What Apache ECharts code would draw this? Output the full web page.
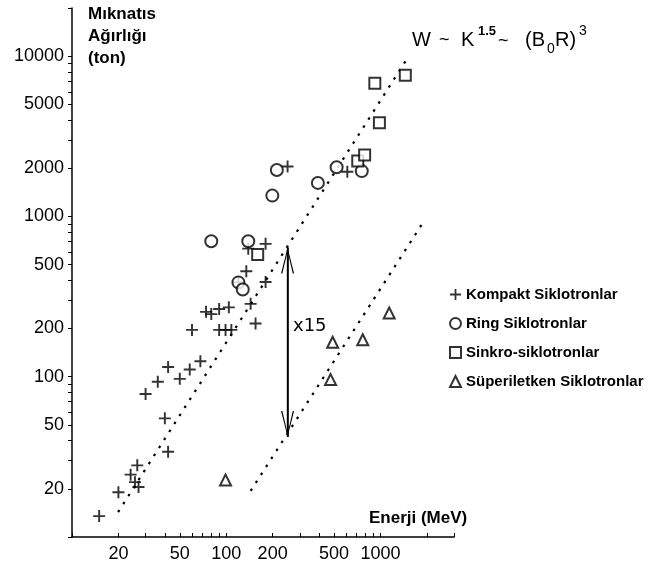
<!DOCTYPE html>
<html><head><meta charset="utf-8">
<script src="https://cdn.jsdelivr.net/npm/echarts@6/dist/echarts.min.js"></script>
<style>html,body{margin:0;padding:0;background:#fff}#c{width:654px;height:574px}</style>
</head><body><div id="c"></div>
<script>
// ---- data (Energy MeV, magnet weight ton) ----
const kompakt = [[15,13.5],[20,19],[27,20.5],[25.6,22],[24,24.5],[26.5,28],[42,34],[40,55],[30,78],[36,93],[50,97],[58,111],[42,115],[68,125],[60,196],[90,196],[99,196],[108,196],[155,215],[74,254],[80,246],[90,265],[104,271],[144,285],[120,388],[180,390],[135,455],[139,630],[180,675],[250,2050],[610,1900]];
const ring = [[80,700],[139,700],[120,388],[128,350],[199,1350],[213,1950],[393,1620],[520,2030],[757,1920]];
const sinkro = [[160,580],[713,2220],[790,2420],[985,3850],[920,6780],[1450,7600]];
const superiletken = [[99,22.7],[475,96],[490,164],[768,170],[1140,250]];
const fitLine = [[19.9,14.3],[1496,9716]];
const fitLineSuper = [[144,19.4],[1871,904]];
const arrowEnds = [[250,640],[250,42]];
const xLabels = [20,50,100,200,500,1000];
const yLabels = [20,50,100,200,500,1000,2000,5000,10000];
const seriesNames = ['Kompakt Siklotronlar','Ring Siklotronlar','Sinkro-siklotronlar','Süperiletken Siklotronlar'];

function minorTicks(lo, hi){
  const out = [];
  for (let d = 1; d <= 100000; d *= 10) for (let k = 1; k <= 9; k++) { const v = k*d; if (v >= lo && v <= hi) out.push(v); }
  return out;
}
const xTickVals = minorTicks(10, 3000);
const yTickVals = minorTicks(10, 20000);

const plusPath = 'path://M0,4.2H10V5.8H0Z M4.2,0H5.8V10H4.2Z';
const chevron = 'path://M5,-20L5.01,-20L5,-20Z M0,20L5,0L10,20L9,20L5,3L1,20Z';
const FONT = '"Liberation Sans", Arial, sans-serif';

const chart = echarts.init(document.getElementById('c'), null, {renderer:'canvas'});
chart.setOption({
  animation:false,
  backgroundColor:'#fff',
  grid:{left:72, top:8, width:382, height:529},
  xAxis:{type:'log', logBase:10, min:10, max:3000,
    axisLine:{lineStyle:{color:'#000', width:1.5}},
    axisTick:{inside:true, length:4, customValues:xTickVals, lineStyle:{color:'#000'}},
    axisLabel:{customValues:xLabels, color:'#000', fontSize:18, fontFamily:FONT, margin:8, formatter:v=>String(v)},
    splitLine:{show:false}},
  yAxis:{type:'log', logBase:10, min:10, max:20000,
    axisLine:{show:true, lineStyle:{color:'#000', width:1.5}},
    axisTick:{inside:false, length:4, customValues:yTickVals, lineStyle:{color:'#000'}},
    axisLabel:{customValues:yLabels, color:'#000', fontSize:18, fontFamily:FONT, margin:8, formatter:v=>String(v)},
    splitLine:{show:false}},
  legend:{orient:'vertical', left:444, top:282, itemGap:14, itemWidth:11, itemHeight:11,
    data:seriesNames, textStyle:{color:'#000', fontWeight:'bold', fontSize:15, fontFamily:FONT}},
  series:[
    {name:'fit', type:'line', data:fitLine, symbol:'none', silent:true, z:1,
      lineStyle:{color:'#000', width:2.2, type:[2.5,7]}},
    {name:'fit2', type:'line', data:fitLineSuper, symbol:'none', silent:true, z:1,
      lineStyle:{color:'#000', width:2.2, type:[2.5,7]}},
    {name:'arrow', type:'line', data:arrowEnds, symbol:'none', silent:true, z:1,
      lineStyle:{color:'#000', width:1.5},
      markLine:{silent:true, symbol:[chevron, chevron], symbolSize:[13,52],
        label:{show:false}, lineStyle:{color:'#000', width:1.5, type:'solid'},
        data:[[{coord:arrowEnds[0]},{coord:arrowEnds[1]}]]}},
    {name:seriesNames[0], type:'scatter', data:kompakt, symbol:plusPath, symbolSize:12,
      itemStyle:{color:'#000'}},
    {name:seriesNames[1], type:'scatter', data:ring, symbol:'emptyCircle', symbolSize:12,
      itemStyle:{color:'#000', borderWidth:1.6}},
    {name:seriesNames[2], type:'scatter', data:sinkro, symbol:'emptyRect', symbolSize:11,
      itemStyle:{color:'#000', borderWidth:1.6}},
    {name:seriesNames[3], type:'scatter', data:superiletken, symbol:'emptyTriangle', symbolSize:11,
      itemStyle:{color:'#000', borderWidth:1.8}}
  ],
  graphic:[
    {type:'text', left:88, top:3, style:{text:'Mıknatıs\nAğırlığı\n(ton)', font:'bold 17px '+FONT, lineHeight:22, fill:'#000'}},
    {type:'text', left:369, top:510, style:{text:'Enerji (MeV)', font:'bold 17px '+FONT, fill:'#000'}},
    {type:'text', x:293, y:326, style:{text:'x15', font:'18px "DejaVu Sans", sans-serif', fill:'#000', verticalAlign:'middle'}},
    {type:'text', x:412, y:40, style:{text:'W', font:'20px '+FONT, fill:'#000', verticalAlign:'middle'}},
    {type:'text', x:439, y:40, style:{text:'~', font:'18px '+FONT, fill:'#000', verticalAlign:'middle'}},
    {type:'text', x:461, y:40, style:{text:'K', font:'20px '+FONT, fill:'#000', verticalAlign:'middle'}},
    {type:'text', x:478, y:31, style:{text:'1.5', font:'bold 13px '+FONT, fill:'#000', verticalAlign:'middle'}},
    {type:'text', x:498, y:41, style:{text:'~', font:'18px '+FONT, fill:'#000', verticalAlign:'middle'}},
    {type:'text', x:525, y:40, style:{text:'(B', font:'20px '+FONT, fill:'#000', verticalAlign:'middle'}},
    {type:'text', x:547, y:49, style:{text:'0', font:'14px '+FONT, fill:'#000', verticalAlign:'middle'}},
    {type:'text', x:555, y:40, style:{text:'R)', font:'20px '+FONT, fill:'#000', verticalAlign:'middle'}},
    {type:'text', x:579, y:31, style:{text:'3', font:'14px '+FONT, fill:'#000', verticalAlign:'middle'}}
  ]
});
</script>
</body></html>
